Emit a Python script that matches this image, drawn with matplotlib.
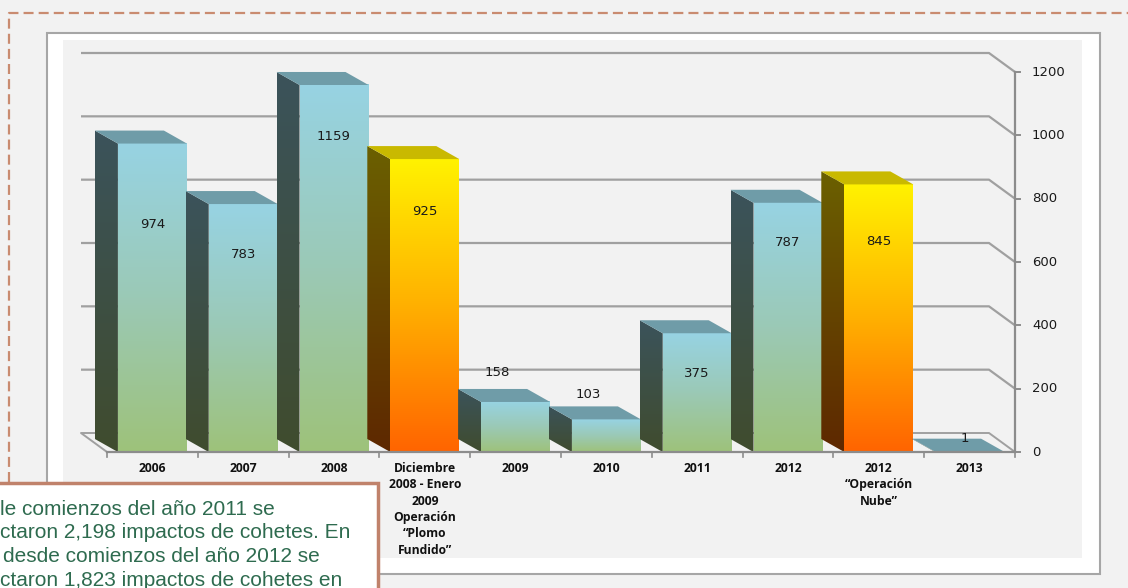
import numpy as np
import matplotlib
matplotlib.use('Agg')
import matplotlib.pyplot as plt
from matplotlib.patches import Polygon, Rectangle
from matplotlib.lines import Line2D
from matplotlib.colors import LinearSegmentedColormap

# ---------------- data ----------------
categories = ['2006', '2007', '2008',
              'Diciembre\n2008 - Enero\n2009\nOperación\n“Plomo\nFundido”',
              '2009', '2010', '2011', '2012',
              '2012\n“Operación\nNube”', '2013']
impacts = [974, 783, 1159, 925, 158, 103, 375, 787, 845, 1]
y_ticks = [0, 200, 400, 600, 800, 1000, 1200]
label_heights = [720, 625, 995, 761, 252, 183, 249, 660, 666, 44]
note_lines = ['le comienzos del año 2011 se',
              'ctaron 2,198 impactos de cohetes. En',
              'desde comienzos del año 2012 se',
              'ctaron 1,823 impactos de cohetes en']

# ---------------- geometry (pixels) ----------------
W, H = 1128, 588
n = len(categories)
PX_L, PX_R = 107, 1015
PY0, PYTOP = 452, 72
sx = (PX_R - PX_L) / n
sy = (PY0 - PYTOP) / 1200.0
bw = 69 / sx
bdx, bdy = -23 / sx, 13 / sy
wdx, wdy = -26 / sx, 19 / sy

fig = plt.figure(figsize=(W / 100, H / 100), dpi=100, facecolor='#f2f2f2')

# white chart box
fig.add_artist(Rectangle((47 / W, 1 - 574 / H), (1100 - 47) / W, (574 - 33) / H,
                         transform=fig.transFigure, facecolor='white',
                         edgecolor='#a6a6a6', lw=1.5, zorder=-1))

ax = fig.add_axes([63 / W, 1 - 558 / H, (1082 - 63) / W, (558 - 40) / H])
ax.set_facecolor('#f2f2f2')
for s in ax.spines.values():
    s.set_visible(False)
ax.set_xticks([])
ax.set_yticks([])

grid_c = '#a0a0a0'
# back wall gridlines + right side diagonals
for v in y_ticks[1:]:
    ax.plot([-0.5 + wdx, n - 0.5 + wdx, n - 0.5], [v + wdy, v + wdy, v],
            color=grid_c, lw=1.6, zorder=1, solid_capstyle='butt')
# floor
ax.plot([-0.5, -0.5 + wdx, n - 0.5 + wdx, n - 0.5], [0, wdy, wdy, 0],
        color=grid_c, lw=1.4, zorder=1)
# front baseline and right axis
ax.plot([-0.5, n - 0.5], [0, 0], color='#8c8c8c', lw=1.6, zorder=10)
ax.plot([n - 0.5, n - 0.5], [0, 1200], color='#8c8c8c', lw=1.6, zorder=10)
for v in y_ticks:
    ax.plot([n - 0.5, n - 0.5 + 5 / sx], [v, v], color='#8c8c8c', lw=1.4, zorder=10)
    ax.text(n - 0.5 + 17 / sx, v, str(v), ha='left', va='center',
            fontsize=9.5, family='DejaVu Sans', color='#1a1a1a')
for k in range(n + 1):
    ax.plot([k - 0.5, k - 0.5], [0, -5 / sy], color='#8c8c8c', lw=1.2, zorder=10)

grad = np.linspace(0, 1, 256).reshape(-1, 1)
blue_front = LinearSegmentedColormap.from_list('bf', ['#9ec27a', '#9bc9b6', '#97d3e3'])
blue_side = LinearSegmentedColormap.from_list('bs', ['#404c2e', '#3b535b'])
yel_front = LinearSegmentedColormap.from_list('yf', ['#ff6400', '#ffb000', '#fff200'])
yel_side = LinearSegmentedColormap.from_list('ys', ['#5e2800', '#6b6000'])

for i, v in enumerate(impacts):
    hl = 'Operación' in categories[i]
    fc, scm = (yel_front, yel_side) if hl else (blue_front, blue_side)
    topc = '#c9b900' if hl else '#6f9ca8'
    xl, xr = i - bw / 2, i + bw / 2
    zo = 3 + i * 0.01
    side = Polygon([(xl, 0), (xl, v), (xl + bdx, v + bdy), (xl + bdx, bdy)],
                   closed=True, facecolor='none', edgecolor='none', zorder=zo)
    ax.add_patch(side)
    im = ax.imshow(grad, cmap=scm, extent=[xl + bdx, xl, 0, v + bdy], origin='lower',
                   aspect='auto', zorder=zo, interpolation='bilinear')
    im.set_clip_path(side)
    if v > 2:
        ax.imshow(grad, cmap=fc, extent=[xl, xr, 0, v], origin='lower',
                  aspect='auto', zorder=zo, interpolation='bilinear')
    ax.add_patch(Polygon([(xl, v), (xr, v), (xr + bdx, v + bdy), (xl + bdx, v + bdy)],
                         closed=True, facecolor=topc, edgecolor='none', zorder=zo))
    lx = i - 18 / sx if 50 < v < 300 else (i - 5 / sx if v <= 50 else i)
    ax.text(lx, label_heights[i], str(v), ha='center', va='center', fontsize=9.5,
            family='DejaVu Sans', color='#1a1a1a', zorder=20)
    ax.text(i, -(462 - PY0) / sy, categories[i], ha='center', va='top', fontsize=8.7,
            fontweight='bold', family='Open Sans', linespacing=1.33, color='#111111',
            zorder=20)

ax.set_xlim(-0.5 - (PX_L - 63) / sx, n - 0.5 + (1082 - PX_R) / sx)
ax.set_ylim(-(558 - PY0) / sy, 1200 + (PYTOP - 40) / sy)

# dashed outer border
fig.add_artist(Line2D([9 / W, 9 / W, 1.0], [1 - 482 / H, 1 - 13 / H, 1 - 13 / H],
                      transform=fig.transFigure, color='#c98b70', lw=1.6,
                      ls=(0, (4.5, 2.3)), zorder=2))

# note box
fig.add_artist(Rectangle((-5 / W, 1 - 600 / H), (378 + 5) / W, (600 - 483) / H,
                         transform=fig.transFigure, facecolor='white',
                         edgecolor='#c0826b', lw=2.5, zorder=5))
for j, line in enumerate(note_lines):
    x0 = 3 if j == 2 else 0
    fig.text(x0 / W, 1 - (515 + 23.5 * j) / H, line, ha='left', va='baseline',
             fontsize=15, family='Liberation Sans', color='#2e6b4f', zorder=6)

fig.savefig('out.png', dpi=100, facecolor=fig.get_facecolor())
